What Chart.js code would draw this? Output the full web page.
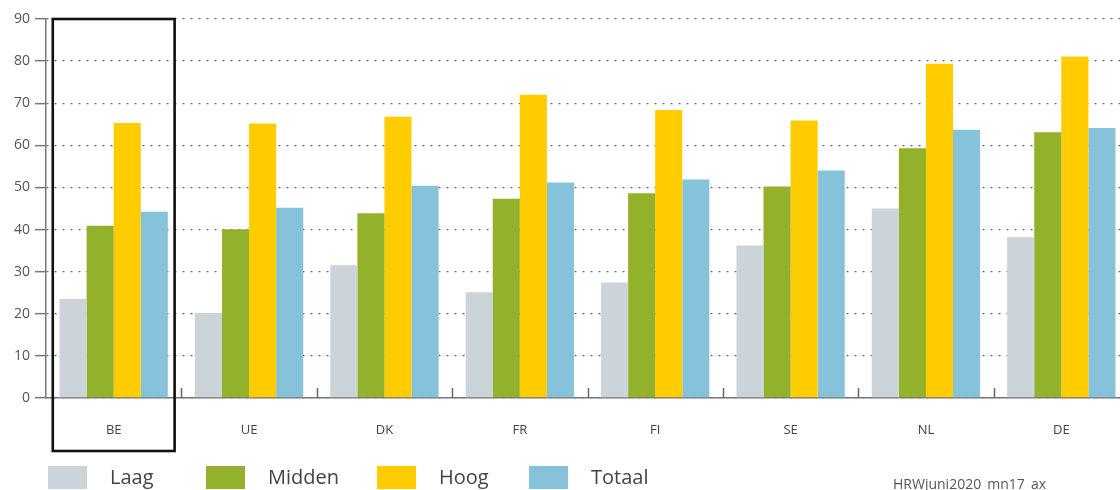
<!DOCTYPE html>
<html>
<head>
<meta charset="utf-8">
<script src="https://cdn.jsdelivr.net/npm/chart.js@4"></script>
<style>
  html, body { margin: 0; padding: 0; background: #fff; overflow: hidden; }
  #wrap { position: relative; width: 1129px; height: 490px; }
  #legend { position: absolute; left: 0; top: 466px; height: 23px; width: 800px;
            font-family: "Open Sans", sans-serif; font-size: 20px; color: #444; }
  #legend .item { position: absolute; top: 0; display: flex; align-items: center; white-space: nowrap; }
  #legend .box { width: 39px; height: 23px; margin-right: 23px; }
  #legend .txt { line-height: 23px; margin-top: -3px; }
  #source { position: absolute; left: 893px; top: 477px; font-family: "Open Sans", sans-serif;
            font-size: 14px; line-height: 14px; color: #555; white-space: nowrap; }
</style>
</head>
<body>
<div id="wrap">
  <canvas id="barChart"></canvas>
  <div id="legend"></div>
  <div id="source">HRWjuni2020_mn17_ax</div>
</div>
<script>
  // ────────── Data ──────────
  const countries = ['BE', 'UE', 'DK', 'FR', 'FI', 'SE', 'NL', 'DE'];
  const seriesNames = ['Laag', 'Midden', 'Hoog', 'Totaal'];
  const seriesColors = ['#ccd3d9', '#93b12a', '#ffcc00', '#86c2d9'];
  const laag   = [23.5, 20.2, 31.5, 25.1, 27.4, 36.2, 45.0, 38.2];
  const midden = [40.9, 40.1, 43.9, 47.3, 48.6, 50.2, 59.3, 63.1];
  const hoog   = [65.3, 65.2, 66.8, 72.0, 68.4, 65.9, 79.4, 81.1];
  const totaal = [44.2, 45.2, 50.4, 51.2, 51.9, 54.0, 63.7, 64.1];
  const yTicks = [0, 10, 20, 30, 40, 50, 60, 70, 80, 90];
  const highlighted = 'BE';

  const seriesValues = [laag, midden, hoog, totaal];

  // ────────── HTML legend ──────────
  const legendLeft = [48, 206, 377, 529];
  const legendEl = document.getElementById('legend');
  seriesNames.forEach((name, i) => {
    const item = document.createElement('div');
    item.className = 'item';
    item.style.left = legendLeft[i] + 'px';
    item.innerHTML = `<div class="box" style="background:${seriesColors[i]}"></div><div class="txt">${name}</div>`;
    legendEl.appendChild(item);
  });

  // ────────── Plugins ──────────
  // small upward tick marks between the country groups
  const groupTicks = {
    id: 'groupTicks',
    afterDatasetsDraw(chart) {
      const {ctx, chartArea} = chart;
      const step = (chartArea.right - chartArea.left) / countries.length;
      ctx.save();
      ctx.strokeStyle = '#666';
      ctx.lineWidth = 1.5;
      for (let i = 1; i < countries.length; i++) {
        const px = Math.round(chartArea.left + i * step) + 0.5;
        ctx.beginPath();
        ctx.moveTo(px, chartArea.bottom - 10);
        ctx.lineTo(px, chartArea.bottom);
        ctx.stroke();
      }
      ctx.restore();
    }
  };

  // black frame round the highlighted country
  const highlightBox = {
    id: 'highlightBox',
    afterDraw(chart) {
      const {ctx, chartArea, scales: {x, y}} = chart;
      const idx = countries.indexOf(highlighted);
      if (idx < 0) return;
      const step = (chartArea.right - chartArea.left) / countries.length;
      const cx = x.getPixelForValue(idx);
      const left = cx - step * 0.45;
      const right = cx + step * 0.45;
      const top = y.getPixelForValue(yTicks[yTicks.length - 1]);
      const bottom = chartArea.bottom + 53;
      ctx.save();
      ctx.strokeStyle = '#111';
      ctx.lineWidth = 2.6;
      ctx.strokeRect(left, top, right - left, bottom - top);
      ctx.restore();
    }
  };

  // ────────── Bar chart ──────────
  const ctx = document.getElementById('barChart').getContext('2d');
  new Chart(ctx, {
    type: 'bar',
    data: {
      labels: countries,
      datasets: seriesNames.map((name, i) => ({
        label: name,
        data: seriesValues[i],
        backgroundColor: seriesColors[i],
        borderWidth: 0,
        categoryPercentage: 0.8,
        barPercentage: 1.0
      }))
    },
    options: {
      responsive: true,
      maintainAspectRatio: false,
      animation: false,
      layout: { padding: { top: 19, left: 0, right: 0, bottom: 0 } },
      plugins: {
        legend: { display: false },
        tooltip: { enabled: false }
      },
      scales: {
        x: {
          grid: { display: false },
          border: { display: true, color: '#777', width: 1.5 },
          ticks: {
            color: '#444',
            padding: 16,
            font: { family: '"Open Sans", sans-serif', size: 13 }
          },
          afterFit(scale) { scale.height = 92; }
        },
        y: {
          min: 0,
          max: 90,
          afterBuildTicks(scale) { scale.ticks = yTicks.map(v => ({ value: v })); },
          grid: {
            color: '#666',
            lineWidth: 1.3,
            tickLength: 11,
            tickColor: '#777',
            tickWidth: 1.5,
            tickBorderDash: []
          },
          border: { display: true, color: '#777', width: 1.5, dash: [2, 6] },
          ticks: {
            color: '#555',
            padding: 5,
            font: { family: '"Open Sans", sans-serif', size: 14 }
          },
          afterFit(scale) { scale.width = 46; }
        }
      }
    },
    plugins: [groupTicks, highlightBox]
  });
</script>
</body>
</html>
